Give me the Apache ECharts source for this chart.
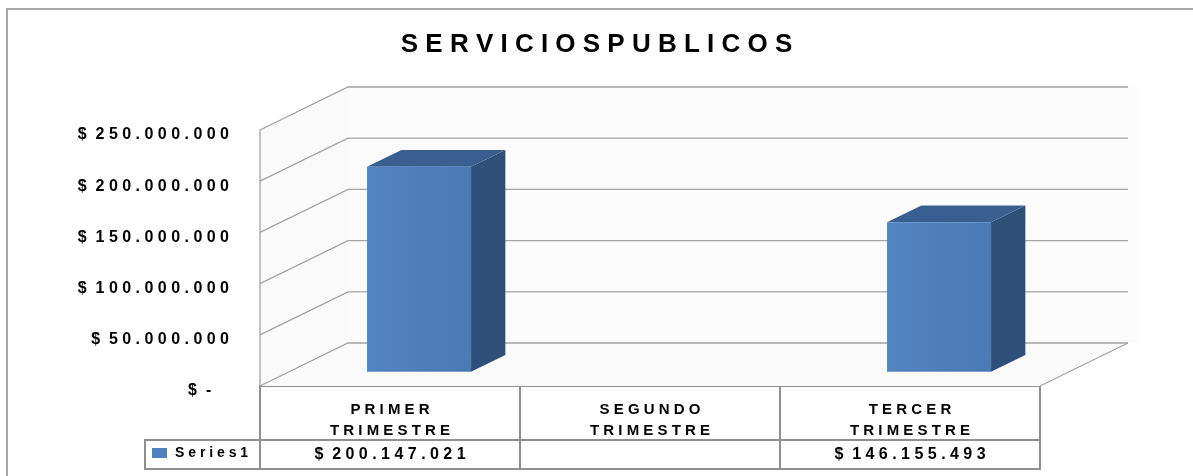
<!DOCTYPE html>
<html>
<head>
<meta charset="utf-8">
<title>Servicios publicos</title>
<script src="https://cdn.jsdelivr.net/npm/echarts@6/dist/echarts.min.js"></script>
<style>
  html, body { margin: 0; padding: 0; background: #fff; }
  #chart { width: 1193px; height: 476px; }
</style>
</head>
<body>
<div id="chart"></div>
<script>
// datos
var titulo = 'SERVICIOS PUBLICOS';
var serieNombre = 'Series1';
var trimestres = ['PRIMER\nTRIMESTRE', 'SEGUNDO\nTRIMESTRE', 'TERCER\nTRIMESTRE'];
var valores = [200147021, null, 146155493];
var yTicks = [0, 50000000, 100000000, 150000000, 200000000, 250000000];

// profundidad del "3D" (en px)
var DX = 88, DY = -43;
var BAR_FRENTE = 0.33, BAR_FONDO = 0.39, BAR_ANCHO = 0.4;

var FONT = 'Liberation Sans';
var GRIS_TABLA = '#8f8f8f';
var GRIS_GRILLA = '#a3a3a3';

function espaciar(s) {
    return s.split('\n').map(function (l) {
        return l.replace(/ /g, '').split('').join(' ');
    }).join('\n');
}
function pesos(v) {
    if (v == null) return '';
    if (v === 0) return '$  -    ';
    var s = String(v).replace(/\B(?=(\d{3})+(?!\d))/g, '.');
    return '$  ' + espaciar(s);
}

function paredes(params, api) {
    var cs = params.coordSys;
    var x0 = cs.x, x1 = cs.x + cs.width;
    var y = api.coord([0, api.value(1)])[1];
    var hijos = [];
    if (params.dataIndex === 0) {
        var yTop = api.coord([0, yTicks[yTicks.length - 1]])[1];
        var yBot = y;
        // fondo, pared izquierda y piso
        hijos.push({ type: 'rect', shape: { x: x0 + DX, y: yTop + DY, width: x1 - x0 + 10, height: yBot - yTop },
            style: { fill: '#fcfcfc' } });
        hijos.push({ type: 'polygon', shape: { points: [[x0, yTop], [x0 + DX, yTop + DY], [x0 + DX, yBot + DY], [x0, yBot]] },
            style: { fill: '#fafafa' } });
        hijos.push({ type: 'polygon', shape: { points: [[x0, yBot], [x1, yBot], [x1 + DX, yBot + DY], [x0 + DX, yBot + DY]] },
            style: { fill: '#fafafa' } });
        hijos.push({ type: 'line', shape: { x1: x0, y1: yTop, x2: x0, y2: yBot },
            style: { stroke: GRIS_GRILLA, lineWidth: 1.3 } });
        hijos.push({ type: 'line', shape: { x1: x1, y1: yBot, x2: x1 + DX, y2: yBot + DY },
            style: { stroke: GRIS_GRILLA, lineWidth: 1.3 } });
    }
    hijos.push({ type: 'polyline', shape: { points: [[x0, y], [x0 + DX, y + DY], [x1 + DX, y + DY]] },
        style: { stroke: GRIS_GRILLA, lineWidth: 1.3, fill: null } });
    return { type: 'group', children: hijos };
}

function barra3d(params, api) {
    var v = api.value(1);
    if (v == null || isNaN(v)) return;
    var tope = api.coord([api.value(0), v]);
    var base = api.coord([api.value(0), 0]);
    var w = api.size([1, 0])[0] * BAR_ANCHO;
    var ox = DX * BAR_FRENTE, oy = DY * BAR_FRENTE;
    var dx = DX * BAR_FONDO, dy = DY * BAR_FONDO;
    var xl = tope[0] - w / 2 + ox, xr = xl + w;
    var yt = tope[1] + oy, yb = base[1] + oy;
    return {
        type: 'group',
        children: [
            { type: 'polygon', shape: { points: [[xr, yt], [xr + dx, yt + dy], [xr + dx, yb + dy], [xr, yb]] },
              style: { fill: '#2f5079' } },
            { type: 'polygon', shape: { points: [[xl, yt], [xr, yt], [xr + dx, yt + dy], [xl + dx, yt + dy]] },
              style: { fill: '#395f90' } },
            { type: 'rect', shape: { x: xl, y: yt, width: w, height: yb - yt },
              style: { fill: new echarts.graphic.LinearGradient(0, 0, 1, 0, [
                  { offset: 0, color: '#5284c1' }, { offset: 1, color: '#4a7ab5' }]) } }
        ]
    };
}

var myChart = echarts.init(document.getElementById('chart'));
var option = {
    animation: false,
    backgroundColor: '#fff',
    title: {
        text: espaciar(titulo),
        left: 'center',
        top: 32,
        padding: 0,
        textStyle: { fontFamily: FONT, fontWeight: 'bold', fontSize: 26, color: '#000' }
    },
    legend: {
        data: [espaciar(serieNombre)],
        left: 152,
        top: 446,
        padding: 0,
        icon: 'rect',
        itemWidth: 15,
        itemHeight: 10,
        textStyle: { fontFamily: FONT, fontWeight: 'bold', fontSize: 14, color: '#000', padding: [0, 0, 0, 3] }
    },
    grid: { left: 260, right: 153, top: 130, bottom: 90, containLabel: false, outerBoundsMode: 'none' },
    xAxis: [{
        type: 'category',
        data: trimestres.map(espaciar),
        boundaryGap: true,
        axisLine: { show: true, lineStyle: { color: GRIS_TABLA, width: 2 } },
        axisTick: { show: true, length: 54, lineStyle: { color: GRIS_TABLA, width: 2 } },
        axisLabel: { interval: 0, margin: 13, lineHeight: 21, fontFamily: FONT, fontWeight: 'bold', fontSize: 15, color: '#000' },
        splitLine: { show: false }
    }, {
        type: 'category',
        position: 'bottom',
        offset: 54,
        data: trimestres,
        boundaryGap: true,
        axisLine: { show: true, lineStyle: { color: GRIS_TABLA, width: 2 } },
        axisTick: { show: true, length: 29, lineStyle: { color: GRIS_TABLA, width: 2 } },
        axisLabel: {
            interval: 0, margin: 7, fontFamily: FONT, fontWeight: 'bold', fontSize: 16, color: '#000',
            formatter: function (val, i) { return pesos(valores[i]); }
        },
        splitLine: { show: false }
    }],
    yAxis: {
        type: 'value',
        min: 0,
        max: 250000000,
        interval: 50000000,
        axisLine: { show: false },
        axisTick: { show: false },
        splitLine: { show: false },
        axisLabel: {
            margin: 31,
            verticalAlign: 'top',
            lineHeight: 10,
            fontFamily: FONT, fontWeight: 'bold', fontSize: 16, color: '#000',
            formatter: function (v) { return pesos(v); }
        }
    },
    series: [{
        name: 'paredes',
        type: 'custom',
        silent: true,
        renderItem: paredes,
        data: yTicks.map(function (v) { return [0, v]; }),
        z: 1
    }, {
        name: espaciar(serieNombre),
        type: 'custom',
        renderItem: barra3d,
        itemStyle: { color: '#4F81BD' },
        data: valores.map(function (v, i) { return [i, v]; }),
        z: 2
    }],
    graphic: [{
        type: 'rect',
        shape: { x: 7, y: 9, width: 1200, height: 480 },
        style: { fill: null, stroke: '#8c8c8c', lineWidth: 1.5 },
        silent: true
    }, {
        type: 'rect',
        shape: { x: 145, y: 440, width: 895, height: 29 },
        style: { fill: null, stroke: GRIS_TABLA, lineWidth: 2 },
        silent: true
    }]
};
myChart.setOption(option);
</script>
</body>
</html>
